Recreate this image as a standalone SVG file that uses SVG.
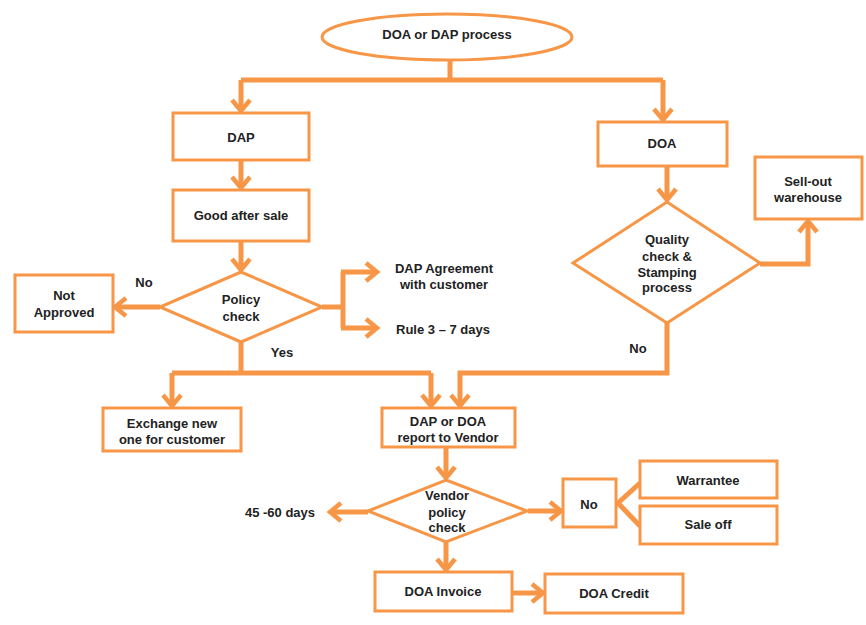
<svg xmlns="http://www.w3.org/2000/svg" width="866" height="625" viewBox="0 0 866 625">
<defs>
<style>
.box{fill:#fff;stroke:#F79646;stroke-width:3}
.ln{fill:none;stroke:#F79646;stroke-width:5;stroke-linejoin:miter}
.ar{fill:none;stroke:#F79646;stroke-width:5;marker-end:url(#ah)}
text{font-family:"Liberation Sans",Arial,sans-serif;font-weight:bold;font-size:13px;fill:#222;text-anchor:middle;dominant-baseline:central}
</style>
<marker id="ah" markerUnits="userSpaceOnUse" markerWidth="24" markerHeight="24" viewBox="-14 -12 16 24" refX="0" refY="0" orient="auto">
<path d="M-11,-9 L0,0 L-11,9" fill="none" stroke="#F79646" stroke-width="4.5" stroke-linejoin="miter"/>
</marker>
</defs>
<rect width="866" height="625" fill="#fff"/>
<g id="connectors">
<polyline class="ln" points="450,60 450,80"/>
<polyline class="ln" points="241,80 663,80"/>
<polyline class="ar" points="241,80 241,111"/>
<polyline class="ar" points="663,80 663,120"/>
<polyline class="ar" points="241,160 241,188"/>
<polyline class="ar" points="667,166 667,200"/>
<polyline class="ar" points="241,241 241,270"/>
<polyline class="ar" points="160,307 115,307"/>
<polyline class="ln" points="322,307 343,307"/>
<polyline class="ln" points="343,272 343,328"/>
<polyline class="ar" points="341,272 377,272"/>
<polyline class="ar" points="341,328 377,328"/>
<polyline class="ar" points="760,264 808,264 808,221"/>
<polyline class="ln" points="241,342 241,373"/>
<polyline class="ln" points="172,373 431,373"/>
<polyline class="ar" points="172,373 172,406"/>
<polyline class="ar" points="431,373 431,406"/>
<polyline class="ar" points="667,323 667,373 460,373 460,406"/>
<polyline class="ar" points="446,447 446,478"/>
<polyline class="ar" points="368,512 330,512"/>
<polyline class="ar" points="528,511 561,511"/>
<polyline class="ln" points="640,483 618,503 640,526"/>
<polyline class="ar" points="446,542 446,570"/>
<polyline class="ar" points="512,593 543,593"/>
</g>
<g id="start"><ellipse cx="447" cy="37" rx="125" ry="23" fill="#fff" stroke="#F79646" stroke-width="3"/><text x="447" y="34">DOA or DAP process</text></g>
<g id="dap"><rect class="box" x="173" y="113" width="136" height="47"/><text x="241" y="137">DAP</text></g>
<g id="doa"><rect class="box" x="598" y="122" width="129" height="44"/><text x="662" y="143">DOA</text></g>
<g id="sellout"><rect class="box" x="755" y="157" width="107" height="62"/><text x="808" y="181">Sell-out</text><text x="808" y="197">warehouse</text></g>
<g id="goodafter"><rect class="box" x="173" y="190" width="136" height="51"/><text x="241" y="215">Good after sale</text></g>
<g id="quality"><polygon class="box" points="667,202 760,263 667,323 573,263"/><text x="667" y="239">Quality</text><text x="667" y="256">check &amp;</text><text x="667" y="272">Stamping</text><text x="667" y="287">process</text></g>
<g id="policy"><polygon class="box" points="241,272 322,307 241,342 160,307"/><text x="241" y="299">Policy</text><text x="241" y="316">check</text></g>
<g id="notapproved"><rect class="box" x="15" y="275" width="98" height="57"/><text x="64" y="295">Not</text><text x="64" y="312">Approved</text></g>
<g id="labels">
<text x="144" y="282">No</text>
<text x="444" y="268">DAP Agreement</text>
<text x="444" y="284">with customer</text>
<text x="443" y="329">Rule 3 – 7 days</text>
<text x="282" y="352">Yes</text>
<text x="638" y="348">No</text>
<text x="280" y="512">45 -60 days</text>
</g>
<g id="exchange"><rect class="box" x="103" y="408" width="138" height="43"/><text x="172" y="423">Exchange new</text><text x="172" y="439">one for customer</text></g>
<g id="report"><rect class="box" x="382" y="408" width="133" height="39"/><text x="448" y="421">DAP or DOA</text><text x="448" y="437">report to Vendor</text></g>
<g id="vendor"><polygon class="box" points="446,480 527,511 446,542 368,511"/><text x="447" y="495">Vendor</text><text x="447" y="512">policy</text><text x="447" y="527">check</text></g>
<g id="no"><rect class="box" x="563" y="479" width="53" height="48"/><text x="589" y="504">No</text></g>
<g id="warrantee"><rect class="box" x="640" y="461" width="137" height="37"/><text x="708" y="480">Warrantee</text></g>
<g id="saleoff"><rect class="box" x="640" y="506" width="137" height="38"/><text x="708" y="524">Sale off</text></g>
<g id="invoice"><rect class="box" x="375" y="572" width="137" height="39"/><text x="443" y="591">DOA Invoice</text></g>
<g id="credit"><rect class="box" x="545" y="574" width="138" height="39"/><text x="614" y="593">DOA Credit</text></g>
</svg>
